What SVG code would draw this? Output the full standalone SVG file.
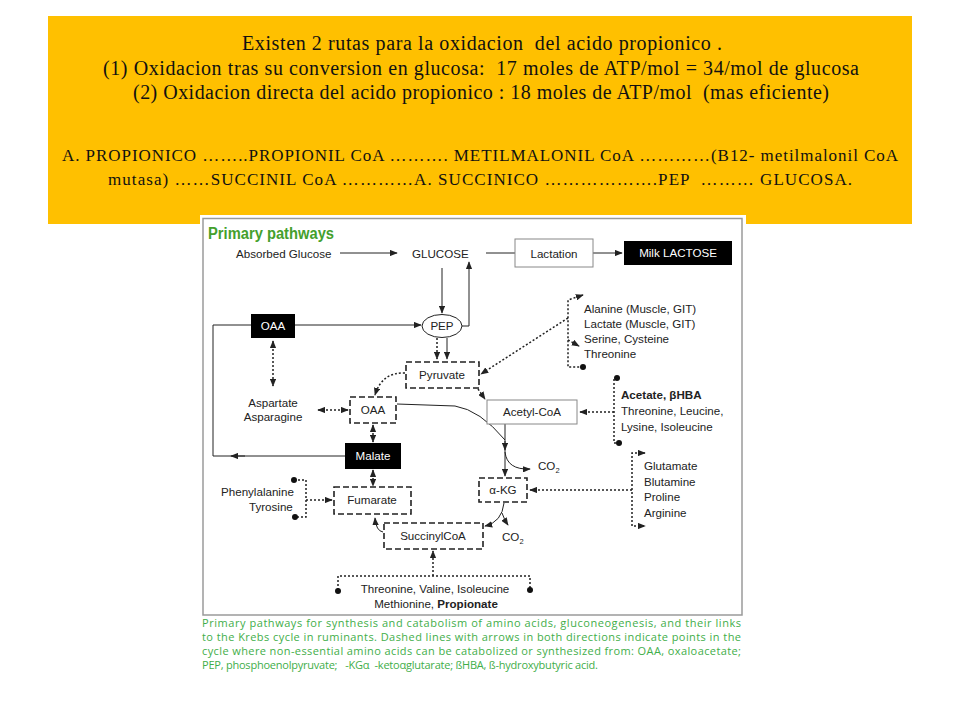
<svg xmlns="http://www.w3.org/2000/svg" width="960" height="720" viewBox="0 0 960 720">
<defs>
<marker id="ah" viewBox="0 0 10 8" refX="9" refY="4" markerWidth="8" markerHeight="6.4" markerUnits="userSpaceOnUse" orient="auto-start-reverse"><path d="M0,0 L10,4 L0,8 z" fill="#222"/></marker>
<style>
.hdr{font-family:"Liberation Serif","Times New Roman",serif;font-size:20px;fill:#111;text-anchor:middle;white-space:pre}
.hdr2{font-family:"Liberation Serif","Times New Roman",serif;font-size:17px;fill:#111;text-anchor:middle;white-space:pre}
.lbl{font-family:"Liberation Sans",Arial,sans-serif;font-size:11.6px;fill:#222}
.c{text-anchor:middle}
.w{fill:#fff}
.dbox{fill:#fff;stroke:#222;stroke-width:1.6;stroke-dasharray:6 3}
.gbox{fill:#fff;stroke:#888;stroke-width:1}
.solid{fill:none;stroke:#222;stroke-width:1}
.dot{fill:none;stroke:#222;stroke-width:1.5;stroke-dasharray:2 2}
.cap{font-family:"Open Sans","Liberation Sans",sans-serif;font-size:11px;fill:#3fae49;white-space:pre}
.pt{fill:#111}
</style>
</defs>
<rect x="0" y="0" width="960" height="720" fill="#fff"/>
<g id="header">
<rect x="48" y="16" width="864" height="208" fill="#ffc000"/>
<text class="hdr" x="482" y="50" textLength="480" lengthAdjust="spacing">Existen 2 rutas para la oxidacion  del acido propionico .</text>
<text class="hdr" x="481" y="75" textLength="756" lengthAdjust="spacing">(1) Oxidacion tras su conversion en glucosa:  17 moles de ATP/mol = 34/mol de glucosa</text>
<text class="hdr" x="481" y="99" textLength="696" lengthAdjust="spacing">(2) Oxidacion directa del acido propionico : 18 moles de ATP/mol  (mas eficiente)</text>
<text class="hdr2" x="480" y="161" textLength="836" lengthAdjust="spacing">A. PROPIONICO ……..PROPIONIL CoA ………. METILMALONIL CoA …………(B12- metilmalonil CoA</text>
<text class="hdr2" x="480" y="185" textLength="744" lengthAdjust="spacing">mutasa) ……SUCCINIL CoA …………A. SUCCINICO ……………….PEP  ……… GLUCOSA.</text>
</g>
<g id="panel">
<rect x="200" y="215" width="546" height="467" fill="#fff"/>
<rect x="203" y="218.5" width="539" height="396.5" fill="#fff" stroke="#9a9a9a" stroke-width="1.5"/>
<text x="208" y="239" font-family="Liberation Sans, Arial, sans-serif" font-weight="bold" font-size="16" fill="#44a02c" textLength="126" lengthAdjust="spacingAndGlyphs">Primary pathways</text>
</g>
<g id="connectors">
<path class="solid" d="M340,253 H397" marker-end="url(#ah)"/>
<path class="solid" d="M486,253 H515"/>
<path class="solid" d="M593,253 H622" marker-end="url(#ah)"/>
<path class="solid" d="M442,268 V313" marker-end="url(#ah)"/>
<path class="solid" d="M462,326 H469 V262" marker-end="url(#ah)"/>
<path class="solid" d="M295,325 H421" marker-end="url(#ah)"/>
<path class="solid" d="M345,456 H213 V325 H251"/>
<path class="solid" d="M245,456 H231" marker-end="url(#ah)"/>
<path class="dot" d="M273,341 V386" marker-start="url(#ah)" marker-end="url(#ah)"/>
<path class="dot" d="M318,410 H348" marker-start="url(#ah)" marker-end="url(#ah)"/>
<path class="dot" d="M373,425 V442" marker-start="url(#ah)" marker-end="url(#ah)"/>
<path class="dot" d="M373,470 V486" marker-start="url(#ah)" marker-end="url(#ah)"/>
<path class="dot" d="M294,480 H306 V517 H295"/>
<circle class="pt" cx="294" cy="480" r="3"/>
<circle class="pt" cx="295" cy="517" r="3"/>
<path class="dot" d="M306,500 H332" marker-end="url(#ah)"/>
<path class="solid" d="M383,532 Q376,531 375,518" marker-end="url(#ah)"/>
<path class="dot" d="M338,590 V576 H530 V589"/>
<circle class="pt" cx="338" cy="591" r="3"/>
<circle class="pt" cx="530" cy="590" r="3"/>
<path class="dot" d="M433,576 V551" marker-end="url(#ah)"/>
<path class="solid" d="M504,503 Q502,522 485,526" marker-end="url(#ah)"/>
<path class="solid" d="M502,513 Q504,519 508,525" marker-end="url(#ah)"/>
<path class="dot" d="M645,453 H632 V526 H645" marker-start="url(#ah)" marker-end="url(#ah)"/>
<path class="dot" d="M632,490 H530" marker-end="url(#ah)"/>
<path class="dot" d="M617,378 H614 V443 H619"/>
<circle class="pt" cx="617" cy="378" r="3"/>
<circle class="pt" cx="619" cy="443" r="3"/>
<path class="dot" d="M614,412 H580" marker-end="url(#ah)"/>
<path class="solid" d="M505,424 V476" marker-end="url(#ah)"/>
<path class="solid" d="M505,441 V450" marker-end="url(#ah)"/>
<path class="solid" d="M505,452 Q507,470 530,469" marker-end="url(#ah)"/>
<path class="solid" d="M397,404 L455,406 Q480,410 505,440"/>
<path class="dot" d="M437,338 V359" marker-end="url(#ah)"/>
<path class="solid" d="M447,338 V359" marker-end="url(#ah)"/>
<path class="dot" d="M405,373 Q382,372 375,395" marker-end="url(#ah)"/>
<path class="dot" d="M478,389 L485,399" marker-end="url(#ah)"/>
<path class="dot" d="M583,295 L568,300 V367 H583" marker-start="url(#ah)"/>
<circle class="pt" cx="583" cy="367" r="3"/>
<path class="dot" d="M568,340 L579,346" marker-end="url(#ah)"/>
<path class="dot" d="M568,318 L481,374" marker-end="url(#ah)"/>
</g>
<g id="absorbed"><text class="lbl" x="236" y="258">Absorbed Glucose</text></g>
<g id="glucose"><text class="lbl" x="412" y="258">GLUCOSE</text></g>
<g id="lactation"><rect class="gbox" x="515" y="239" width="78" height="28"/><text class="lbl c" x="554" y="258">Lactation</text></g>
<g id="milk"><rect x="624" y="241" width="108" height="24" fill="#000"/><text class="lbl c w" x="678" y="257">Milk LACTOSE</text></g>
<g id="pep"><ellipse cx="442" cy="326" rx="20" ry="11.5" fill="#fff" stroke="#222" stroke-width="1"/><text class="lbl c" x="442" y="330">PEP</text></g>
<g id="oaa-black"><rect x="251" y="314" width="44" height="24" fill="#000"/><text class="lbl c w" x="273" y="330">OAA</text></g>
<g id="alanine"><text class="lbl" x="584" y="313">Alanine (Muscle, GIT)</text><text class="lbl" x="584" y="328">Lactate (Muscle, GIT)</text><text class="lbl" x="584" y="343">Serine, Cysteine</text><text class="lbl" x="584" y="358">Threonine</text></g>
<g id="pyruvate"><rect class="dbox" x="406" y="362" width="73" height="26"/><text class="lbl c" x="442" y="379">Pyruvate</text></g>
<g id="aspartate"><text class="lbl c" x="273" y="407">Aspartate</text><text class="lbl c" x="273" y="421">Asparagine</text></g>
<g id="oaa"><rect class="dbox" x="350" y="397" width="46" height="26"/><text class="lbl c" x="373" y="414">OAA</text></g>
<g id="acetylcoa"><rect class="gbox" x="487" y="400" width="90" height="24"/><text class="lbl c" x="532" y="416">Acetyl-CoA</text></g>
<g id="acetate"><text class="lbl" x="621" y="399" font-weight="bold">Acetate, βHBA</text><text class="lbl" x="621" y="415">Threonine, Leucine,</text><text class="lbl" x="621" y="431">Lysine, Isoleucine</text></g>
<g id="malate"><rect x="345" y="443" width="56" height="26" fill="#000"/><text class="lbl c w" x="373" y="460">Malate</text></g>
<g id="co2a"><text class="lbl" x="538" y="470">CO<tspan font-size="7.5" dy="3">2</tspan></text></g>
<g id="akg"><rect class="dbox" x="479" y="478" width="48" height="24"/><text class="lbl c" x="503" y="494">α-KG</text></g>
<g id="glutamate"><text class="lbl" x="644" y="470">Glutamate</text><text class="lbl" x="644" y="486">Blutamine</text><text class="lbl" x="644" y="501">Proline</text><text class="lbl" x="644" y="517">Arginine</text></g>
<g id="phenyl"><text class="lbl" x="221" y="496">Phenylalanine</text><text class="lbl" x="249" y="511">Tyrosine</text></g>
<g id="fumarate"><rect class="dbox" x="334" y="487" width="77" height="27"/><text class="lbl c" x="372" y="504">Fumarate</text></g>
<g id="succinylcoa"><rect class="dbox" x="384" y="523" width="99" height="26"/><text class="lbl c" x="433" y="540">SuccinylCoA</text></g>
<g id="co2b"><text class="lbl" x="502" y="541">CO<tspan font-size="7.5" dy="3">2</tspan></text></g>
<g id="propionate"><text class="lbl c" x="435" y="593">Threonine, Valine, Isoleucine</text><text class="lbl c" x="436" y="608">Methionine, <tspan font-weight="bold">Propionate</tspan></text></g>
<g id="caption">
<text class="cap" x="202" y="627" textLength="539" lengthAdjust="spacing">Primary pathways for synthesis and catabolism of amino acids, gluconeogenesis, and their links</text>
<text class="cap" x="202" y="641" textLength="539" lengthAdjust="spacing">to the Krebs cycle in ruminants. Dashed lines with arrows in both directions indicate points in the</text>
<text class="cap" x="202" y="655" textLength="539" lengthAdjust="spacing">cycle where non-essential amino acids can be catabolized or synthesized from: OAA, oxaloacetate;</text>
<text class="cap" x="202" y="669" textLength="396" lengthAdjust="spacing">PEP, phosphoenolpyruvate;   -KGα  -ketoαglutarate; ßHBA, ß-hydroxybutyric acid.</text>
</g>
</svg>
